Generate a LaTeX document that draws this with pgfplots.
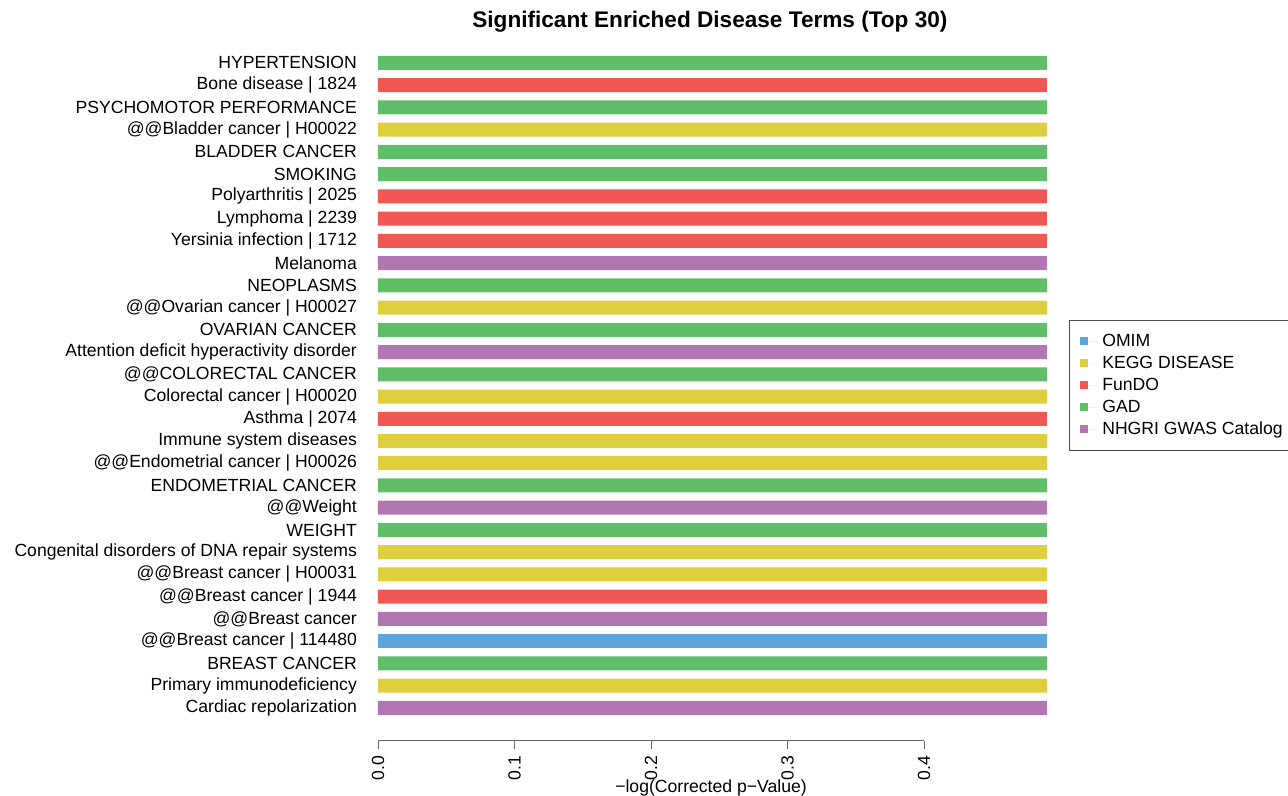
\documentclass[border=0pt]{standalone}
\usepackage{pgfplots}
\pgfplotsset{compat=1.18}
\usepackage{fontspec}
\setmainfont{Liberation Sans}

% category colours
\definecolor{colOMIM}{HTML}{5DA5DA}
\definecolor{colKEGG}{HTML}{DECF3F}
\definecolor{colFunDO}{HTML}{F15854}
\definecolor{colGAD}{HTML}{60BD68}
\definecolor{colGWAS}{HTML}{B276B2}

\newcommand{\lblfont}{\fontsize{8.8}{10}\selectfont}

\begin{document}
\begin{tikzpicture}
\begin{axis}[
  x=682.5pt, y=11.12pt,
  xmin=0, xmax=0.4,
  ymin=-1.48, ymax=30,
  clip=false,
  axis lines*=left,
  axis line style={-, draw=black!60},
  y axis line style={draw=none},
  xtick={0,0.1,0.2,0.3,0.4},
  xticklabel style={rotate=90, anchor=east, font=\lblfont},
  x tick label style={/pgf/number format/.cd, fixed, fixed zerofill, precision=1, assume math mode=true},
  tick align=outside,
  major tick length=4pt,
  xtick style={draw=black!60},
  ytick={0,...,29},
  ytick style={draw=none},
  yticklabels={
    Cardiac repolarization,
    Primary immunodeficiency,
    BREAST CANCER,
    @@Breast cancer | 114480,
    @@Breast cancer,
    @@Breast cancer | 1944,
    @@Breast cancer | H00031,
    Congenital disorders of DNA repair systems,
    WEIGHT,
    @@Weight,
    ENDOMETRIAL CANCER,
    @@Endometrial cancer | H00026,
    Immune system diseases,
    Asthma | 2074,
    Colorectal cancer | H00020,
    @@COLORECTAL CANCER,
    Attention deficit hyperactivity disorder,
    OVARIAN CANCER,
    @@Ovarian cancer | H00027,
    NEOPLASMS,
    Melanoma,
    Yersinia infection | 1712,
    Lymphoma | 2239,
    Polyarthritis | 2025,
    SMOKING,
    BLADDER CANCER,
    @@Bladder cancer | H00022,
    PSYCHOMOTOR PERFORMANCE,
    Bone disease | 1824,
    HYPERTENSION},
  yticklabel style={font=\lblfont, anchor=east, xshift=-3pt},
  xbar, bar width=7pt, bar shift=0pt,
  legend style={at={(axis cs:0.5062,17.45)}, anchor=north west,
    draw=black!70, inner xsep=5.5pt, inner ysep=5pt, font=\lblfont, row sep=0pt,
    nodes={text height=7pt, text depth=2pt, inner ysep=1pt},
    legend cell align=left},
  legend image code/.code={
    \fill[#1] (-2pt,-2pt) rectangle (2pt,2pt);
    \path (2pt,0pt) -- (7pt,0pt);},
]
% OMIM
\addplot[fill=colOMIM, draw=none] coordinates {(0.49,3)};
% KEGG DISEASE
\addplot[fill=colKEGG, draw=none] coordinates {
  (0.49,1) (0.49,6) (0.49,7) (0.49,11) (0.49,12) (0.49,14) (0.49,18) (0.49,26)};
% FunDO
\addplot[fill=colFunDO, draw=none] coordinates {
  (0.49,5) (0.49,13) (0.49,21) (0.49,22) (0.49,23) (0.49,28)};
% GAD
\addplot[fill=colGAD, draw=none] coordinates {
  (0.49,2) (0.49,8) (0.49,10) (0.49,15) (0.49,17) (0.49,19) (0.49,24) (0.49,25) (0.49,27) (0.49,29)};
% NHGRI GWAS Catalog
\addplot[fill=colGWAS, draw=none] coordinates {
  (0.49,0) (0.49,4) (0.49,9) (0.49,16) (0.49,20)};
\legend{OMIM, KEGG DISEASE, FunDO, GAD, NHGRI GWAS Catalog}

\node[font=\bfseries\fontsize{11.3}{13}\selectfont] at (axis cs:0.2432,30.85) {Significant Enriched Disease Terms (Top 30)};
\node[font=\lblfont] at (axis cs:0.244,-3.6) {−log(Corrected p−Value)};

\coordinate (bbl) at (axis cs:-0.2769,-3.957);
\coordinate (btr) at (axis cs:0.6667,31.83);
\end{axis}
\pgfresetboundingbox
\useasboundingbox (bbl) rectangle (btr);
\end{tikzpicture}
\end{document}
